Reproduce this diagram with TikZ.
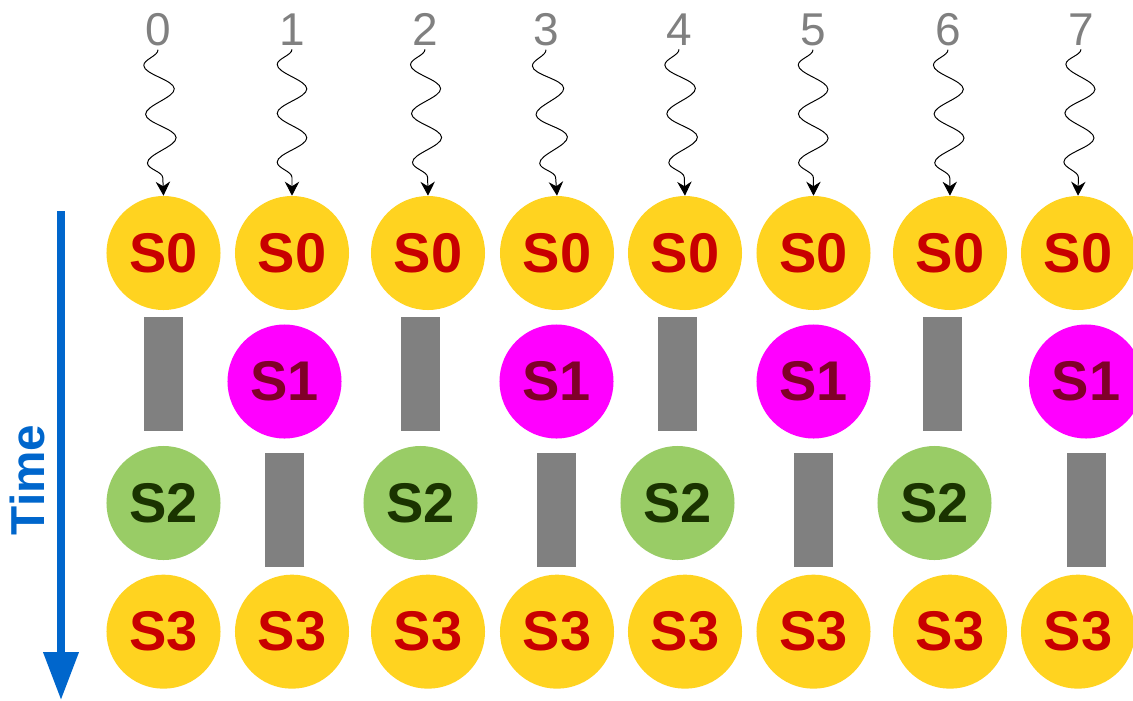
\documentclass[tikz,border=0pt]{standalone}
\usepackage{fontspec}
\setmainfont{Liberation Sans}
\usepackage{tikz}
\usepackage{xcolor}
\usetikzlibrary{positioning,arrows.meta,decorations.pathmorphing}

\definecolor{fill-y}{RGB}{255,211,32}
\definecolor{fill-m}{RGB}{255,0,255}
\definecolor{fill-g}{RGB}{153,204,102}
\definecolor{ink-r}{RGB}{200,0,0}
\definecolor{ink-m}{RGB}{128,0,40}
\definecolor{ink-g}{RGB}{26,51,0}
\definecolor{bar-gray}{RGB}{128,128,128}
\definecolor{time-blue}{RGB}{0,102,204}

\begin{document}
\begin{tikzpicture}
[
x = 0.025cm, y = -0.025cm,
cell-y/.style={circle, fill=fill-y, minimum size = 28.5mm, inner sep = 0mm, text=ink-r, font=\bfseries\fontsize{39.8}{40}\selectfont},
cell-m/.style={circle, fill=fill-m, minimum size = 28.5mm, inner sep = 0mm, text=ink-m, font=\bfseries\fontsize{39.8}{40}\selectfont},
cell-g/.style={circle, fill=fill-g, minimum size = 28.5mm, inner sep = 0mm, text=ink-g, font=\bfseries\fontsize{39.8}{40}\selectfont},
bar-a/.style={rectangle, fill=bar-gray, minimum width = 9.75mm, minimum height = 28.5mm, inner sep = 0mm},
text-a/.style={text=bar-gray, anchor=base, inner sep = 1mm, font=\fontsize{32.7}{33}\selectfont},
text-b/.style={text=time-blue, font=\bfseries\fontsize{33.9}{34}\selectfont},
wave-a/.style={-{Stealth[length=3.5mm, width=3.6mm]}, line width=0.7pt, decorate, decoration={snake, mirror, amplitude=3.7mm, segment length=12.2mm, post length=4mm}},
time-a/.style={-{Triangle[length=12mm, width=8.5mm]}, line width=1.8mm, draw=time-blue}
]

\useasboundingbox (0,0) rectangle (1133,700);

\node (s0-0)   [cell-y] at (163.5,253)                  {S0};
\node (s0-1)   [cell-y] at (292.0,253)                  {S0};
\node (s0-2)   [cell-y] at (428.0,253)                  {S0};
\node (s0-3)   [cell-y] at (557.0,253)                  {S0};
\node (s0-4)   [cell-y] at (685.0,253)                  {S0};
\node (s0-5)   [cell-y] at (813.5,253)                  {S0};
\node (s0-6)   [cell-y] at (950.0,253)                  {S0};
\node (s0-7)   [cell-y] at (1078.0,253)                 {S0};
\node (bar-0)  [bar-a]  at (163.5,374)                  {};
\node (s1-1)   [cell-m] at (284.5,381.5)                {S1};
\node (bar-2)  [bar-a]  at (420.5,374)                  {};
\node (s1-3)   [cell-m] at (556.5,381.5)                {S1};
\node (bar-4)  [bar-a]  at (677.5,374)                  {};
\node (s1-5)   [cell-m] at (813.5,381.5)                {S1};
\node (bar-6)  [bar-a]  at (942.5,374)                  {};
\node (s1-7)   [cell-m] at (1086.0,381.5)               {S1};
\node (s2-0)   [cell-g] at (163.5,503)                  {S2};
\node (bar-1)  [bar-a]  at (284.5,510)                  {};
\node (s2-2)   [cell-g] at (420.5,503)                  {S2};
\node (bar-3)  [bar-a]  at (556.5,510)                  {};
\node (s2-4)   [cell-g] at (677.5,503)                  {S2};
\node (bar-5)  [bar-a]  at (813.5,510)                  {};
\node (s2-6)   [cell-g] at (934.5,503)                  {S2};
\node (bar-7)  [bar-a]  at (1086.0,510)                 {};
\node (s3-0)   [cell-y, below = 66.00mm of s0-0]        {S3};
\node (s3-1)   [cell-y, below = 66.00mm of s0-1]        {S3};
\node (s3-2)   [cell-y, below = 66.00mm of s0-2]        {S3};
\node (s3-3)   [cell-y, below = 66.00mm of s0-3]        {S3};
\node (s3-4)   [cell-y, below = 66.00mm of s0-4]        {S3};
\node (s3-5)   [cell-y, below = 66.00mm of s0-5]        {S3};
\node (s3-6)   [cell-y, below = 66.00mm of s0-6]        {S3};
\node (s3-7)   [cell-y, below = 66.00mm of s0-7]        {S3};
\node (num-0)  [text-a] at (158,45)                     {0};
\node (num-1)  [text-a] at (292,45)                     {1};
\node (num-2)  [text-a] at (425,45)                     {2};
\node (num-3)  [text-a] at (546,45)                     {3};
\node (num-4)  [text-a] at (679,45)                     {4};
\node (num-5)  [text-a] at (813,45)                     {5};
\node (num-6)  [text-a] at (948,45)                     {6};
\node (num-7)  [text-a] at (1081,45)                    {7};
\node (time)   [text-b, rotate=90] at (27,480)          {Time};
\coordinate (time-top) at (61,211);
\coordinate (time-end) at (61,700);
\draw [wave-a] (num-0.south) -- (s0-0.north);
\draw [wave-a] (num-1.south) -- (s0-1.north);
\draw [wave-a] (num-2.south) -- (s0-2.north);
\draw [wave-a] (num-3.south) -- (s0-3.north);
\draw [wave-a] (num-4.south) -- (s0-4.north);
\draw [wave-a] (num-5.south) -- (s0-5.north);
\draw [wave-a] (num-6.south) -- (s0-6.north);
\draw [wave-a] (num-7.south) -- (s0-7.north);
\draw [time-a] (time-top) -- (time-end);

\end{tikzpicture}
\end{document}
